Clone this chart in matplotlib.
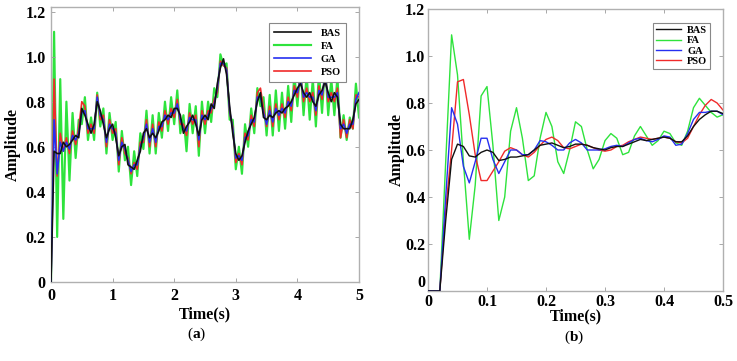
import numpy as np
import matplotlib
matplotlib.use("Agg")
import matplotlib.pyplot as plt

plt.rcParams['font.family'] = ['Liberation Serif', 'DejaVu Serif']
plt.rcParams['mathtext.fontset'] = 'custom'
plt.rcParams['mathtext.bf'] = 'Liberation Serif:bold'

# ---- panel (a): 0..5 s, sampled every 0.05 s ----
t_a = np.round(np.arange(101) * 0.05, 2)

bas_a = [0.00, 0.58, 0.57, 0.57, 0.62, 0.60, 0.61, 0.63, 0.65, 0.64,
         0.77, 0.74, 0.70, 0.66, 0.70, 0.80, 0.76, 0.70, 0.64, 0.68,
         0.70, 0.64, 0.56, 0.60, 0.61, 0.52, 0.51, 0.50, 0.54, 0.58,
         0.66, 0.68, 0.64, 0.66, 0.64, 0.67, 0.71, 0.72, 0.74, 0.73,
         0.77, 0.77, 0.74, 0.66, 0.69, 0.71, 0.74, 0.70, 0.65, 0.72,
         0.74, 0.72, 0.79, 0.77, 0.88, 0.95, 0.99, 0.92, 0.78, 0.66,
         0.57, 0.54, 0.56, 0.62, 0.67, 0.70, 0.73, 0.80, 0.84, 0.73,
         0.72, 0.74, 0.73, 0.75, 0.76, 0.75, 0.77, 0.78, 0.80, 0.83,
         0.86, 0.88, 0.84, 0.82, 0.84, 0.80, 0.78, 0.83, 0.85, 0.89,
         0.84, 0.80, 0.84, 0.82, 0.70, 0.68, 0.68, 0.68, 0.72, 0.79,
         0.81]

fa_a = [0.00, 1.11, 0.20, 0.90, 0.28, 0.80, 0.45, 0.75, 0.55, 0.72,
        0.70, 0.82, 0.63, 0.73, 0.63, 0.84, 0.69, 0.77, 0.57, 0.75,
        0.63, 0.71, 0.49, 0.67, 0.54, 0.60, 0.43, 0.58, 0.47, 0.66,
        0.59, 0.76, 0.57, 0.74, 0.57, 0.75, 0.64, 0.80, 0.67, 0.82,
        0.70, 0.85, 0.66, 0.74, 0.58, 0.79, 0.66, 0.78, 0.56, 0.80,
        0.66, 0.80, 0.71, 0.86, 0.82, 1.01, 0.96, 0.97, 0.72, 0.72,
        0.50, 0.60, 0.48, 0.70, 0.60, 0.77, 0.66, 0.86, 0.78, 0.82,
        0.65, 0.83, 0.65, 0.85, 0.67, 0.84, 0.68, 0.87, 0.71, 0.92,
        0.78, 0.96, 0.74, 0.92, 0.72, 0.90, 0.69, 0.93, 0.75, 0.97,
        0.74, 0.90, 0.74, 0.91, 0.64, 0.74, 0.63, 0.73, 0.68, 0.88,
        0.73]

ga_a = [0.00, 0.72, 0.48, 0.62, 0.58, 0.62, 0.59, 0.65, 0.63, 0.66,
        0.75, 0.76, 0.68, 0.68, 0.68, 0.82, 0.74, 0.72, 0.62, 0.70,
        0.68, 0.66, 0.54, 0.62, 0.59, 0.54, 0.49, 0.52, 0.52, 0.60,
        0.64, 0.70, 0.62, 0.68, 0.62, 0.69, 0.69, 0.74, 0.72, 0.75,
        0.75, 0.79, 0.72, 0.68, 0.67, 0.73, 0.72, 0.72, 0.63, 0.74,
        0.72, 0.74, 0.77, 0.79, 0.86, 0.97, 0.97, 0.94, 0.76, 0.68,
        0.55, 0.56, 0.54, 0.64, 0.65, 0.72, 0.71, 0.82, 0.82, 0.75,
        0.70, 0.76, 0.71, 0.77, 0.74, 0.77, 0.75, 0.80, 0.78, 0.85,
        0.84, 0.90, 0.82, 0.84, 0.82, 0.82, 0.76, 0.85, 0.83, 0.91,
        0.82, 0.82, 0.82, 0.84, 0.68, 0.70, 0.66, 0.70, 0.70, 0.81,
        0.84]

pso_a = [0.00, 0.90, 0.47, 0.66, 0.58, 0.64, 0.57, 0.67, 0.61, 0.68,
         0.80, 0.78, 0.66, 0.70, 0.66, 0.83, 0.72, 0.74, 0.60, 0.72,
         0.66, 0.68, 0.52, 0.64, 0.57, 0.55, 0.48, 0.53, 0.50, 0.62,
         0.62, 0.72, 0.60, 0.70, 0.60, 0.71, 0.67, 0.76, 0.70, 0.77,
         0.73, 0.81, 0.70, 0.70, 0.65, 0.75, 0.70, 0.74, 0.60, 0.76,
         0.70, 0.76, 0.75, 0.81, 0.84, 0.98, 0.96, 0.95, 0.75, 0.69,
         0.53, 0.57, 0.52, 0.66, 0.63, 0.74, 0.69, 0.84, 0.86, 0.77,
         0.69, 0.78, 0.69, 0.79, 0.72, 0.79, 0.73, 0.82, 0.76, 0.87,
         0.82, 0.92, 0.80, 0.86, 0.80, 0.84, 0.74, 0.87, 0.81, 0.93,
         0.80, 0.84, 0.80, 0.86, 0.64, 0.72, 0.64, 0.72, 0.68, 0.83,
         0.82]

# ---- panel (b): 0..0.5 s, sampled every 0.01 s ----
t_b = np.round(np.arange(51) * 0.01, 2)

bas_b = [0.00, 0.00, 0.00, 0.30, 0.56, 0.625, 0.615, 0.575, 0.57, 0.59,
         0.60, 0.59, 0.555, 0.56, 0.57, 0.57, 0.575, 0.58, 0.60, 0.62,
         0.625, 0.63, 0.62, 0.61, 0.615, 0.625, 0.625, 0.62, 0.61, 0.605,
         0.60, 0.61, 0.615, 0.615, 0.625, 0.635, 0.645, 0.64, 0.645, 0.65,
         0.655, 0.65, 0.635, 0.635, 0.66, 0.70, 0.73, 0.75, 0.765, 0.765,
         0.755]

fa_b = [0.00, 0.00, 0.00, 0.55, 1.09, 0.92, 0.55, 0.22, 0.45, 0.83,
        0.87, 0.62, 0.30, 0.40, 0.68, 0.78, 0.65, 0.47, 0.49, 0.65,
        0.76, 0.70, 0.55, 0.50, 0.60, 0.72, 0.70, 0.60, 0.52, 0.56,
        0.64, 0.67, 0.65, 0.58, 0.59, 0.66, 0.70, 0.66, 0.62, 0.64,
        0.68, 0.67, 0.63, 0.62, 0.68, 0.78, 0.82, 0.79, 0.76, 0.74,
        0.75]

ga_b = [0.00, 0.00, 0.00, 0.40, 0.78, 0.71, 0.53, 0.46, 0.55, 0.65,
        0.65, 0.56, 0.50, 0.55, 0.60, 0.60, 0.58, 0.58, 0.60, 0.64,
        0.635, 0.62, 0.60, 0.60, 0.63, 0.645, 0.63, 0.60, 0.60, 0.60,
        0.605, 0.615, 0.62, 0.615, 0.63, 0.645, 0.65, 0.64, 0.635, 0.645,
        0.66, 0.655, 0.62, 0.625, 0.67, 0.73, 0.76, 0.76, 0.765, 0.765,
        0.75]

pso_b = [0.00, 0.00, 0.00, 0.35, 0.60, 0.89, 0.90, 0.75, 0.58, 0.47,
         0.47, 0.51, 0.55, 0.595, 0.61, 0.60, 0.58, 0.57, 0.59, 0.62,
         0.645, 0.655, 0.64, 0.61, 0.605, 0.615, 0.625, 0.62, 0.61, 0.60,
         0.595, 0.60, 0.615, 0.62, 0.635, 0.645, 0.655, 0.65, 0.645, 0.65,
         0.655, 0.65, 0.635, 0.63, 0.65, 0.70, 0.75, 0.79, 0.815, 0.80,
         0.77]

names = ['BAS', 'FA', 'GA', 'PSO']
colors = {'BAS': '#111111', 'FA': '#2ee33c', 'GA': '#2630f0', 'PSO': '#f02a2a'}
order = {'FA': 1, 'PSO': 2, 'GA': 3, 'BAS': 4}

fig = plt.figure(figsize=(7.37, 3.61), dpi=100)
ax1 = fig.add_axes([51 / 737, 1 - 282 / 361, 308 / 737, 275 / 361])
ax2 = fig.add_axes([428 / 737, 1 - 291 / 361, 295 / 737, 282 / 361])

panels = [
    (ax1, t_a, {'BAS': bas_a, 'FA': fa_a, 'GA': ga_a, 'PSO': pso_a}, 1.2,
     (0, 5), (0, 1.22), [0, 1, 2, 3, 4, 5], ['0', '1', '2', '3', '4', '5']),
    (ax2, t_b, {'BAS': bas_b, 'FA': fa_b, 'GA': ga_b, 'PSO': pso_b}, 1.0,
     (0, 0.5), (0, 1.2), [0, 0.1, 0.2, 0.3, 0.4, 0.5],
     ['0', '0.1', '0.2', '0.3', '0.4', '0.5']),
]

tfont = dict(fontsize=11.5, fontweight='bold')
for ax, t, series, lw, xl, yl, xt, xtl in panels:
    handles = {}
    for n in names:
        w = lw * (1.3 if (n == 'FA' and ax is ax1) else 1.0)
        h, = ax.plot(t, series[n], color=colors[n], lw=w, zorder=order[n], label=n)
        handles[n] = h
    ax.set_xlim(*xl)
    ax.set_ylim(*yl)
    ax.set_xticks(xt)
    ax.set_xticklabels(xtl, **tfont)
    ax.set_yticks([0, 0.2, 0.4, 0.6, 0.8, 1.0, 1.2])
    ax.set_yticklabels(['0', '0.2', '0.4', '0.6', '0.8', '1.0', '1.2'], **tfont)
    ax.tick_params(direction='in', length=3, width=0.6, color='#9a9a9a',
                   top=True, right=True, pad=4 if ax is ax1 else 2)
    for s in ax.spines.values():
        s.set_color('#b0b0b0')
        s.set_linewidth(1.0)
    ax.set_xlabel('Time(s)', fontsize=11.5, fontweight='bold',
                  labelpad=2 if ax is ax1 else -1)
    ax.set_ylabel('Amplitude', fontsize=11.5, fontweight='bold',
                  labelpad=3 if ax is ax1 else 0)
    leg = ax.legend([handles[n] for n in names], names,
                    loc='upper right', prop={'weight': 'bold', 'size': 7.5},
                    fancybox=False, framealpha=1, edgecolor='#888888',
                    handlelength=3.6 if ax is ax1 else 2.4,
                    handletextpad=0.9 if ax is ax1 else 0.6,
                    labelspacing=0.35 if ax is ax1 else 0.1,
                    borderpad=0.5 if ax is ax1 else 0.3,
                    bbox_to_anchor=(0.975, 0.96) if ax is ax1 else (0.975, 0.97))
    leg.get_frame().set_linewidth(0.8)

# raise the "0" label on panel (b) a little, as in the original
ax2.get_yticklabels()[0].set_va('bottom')

fig.text(197 / 737, 1 - 334 / 361, r'($\mathbf{a}$)', ha='center', va='center', fontsize=11)
fig.text(574 / 737, 1 - 337 / 361, r'($\mathbf{b}$)', ha='center', va='center', fontsize=11)

fig.savefig('out.png', dpi=100)
